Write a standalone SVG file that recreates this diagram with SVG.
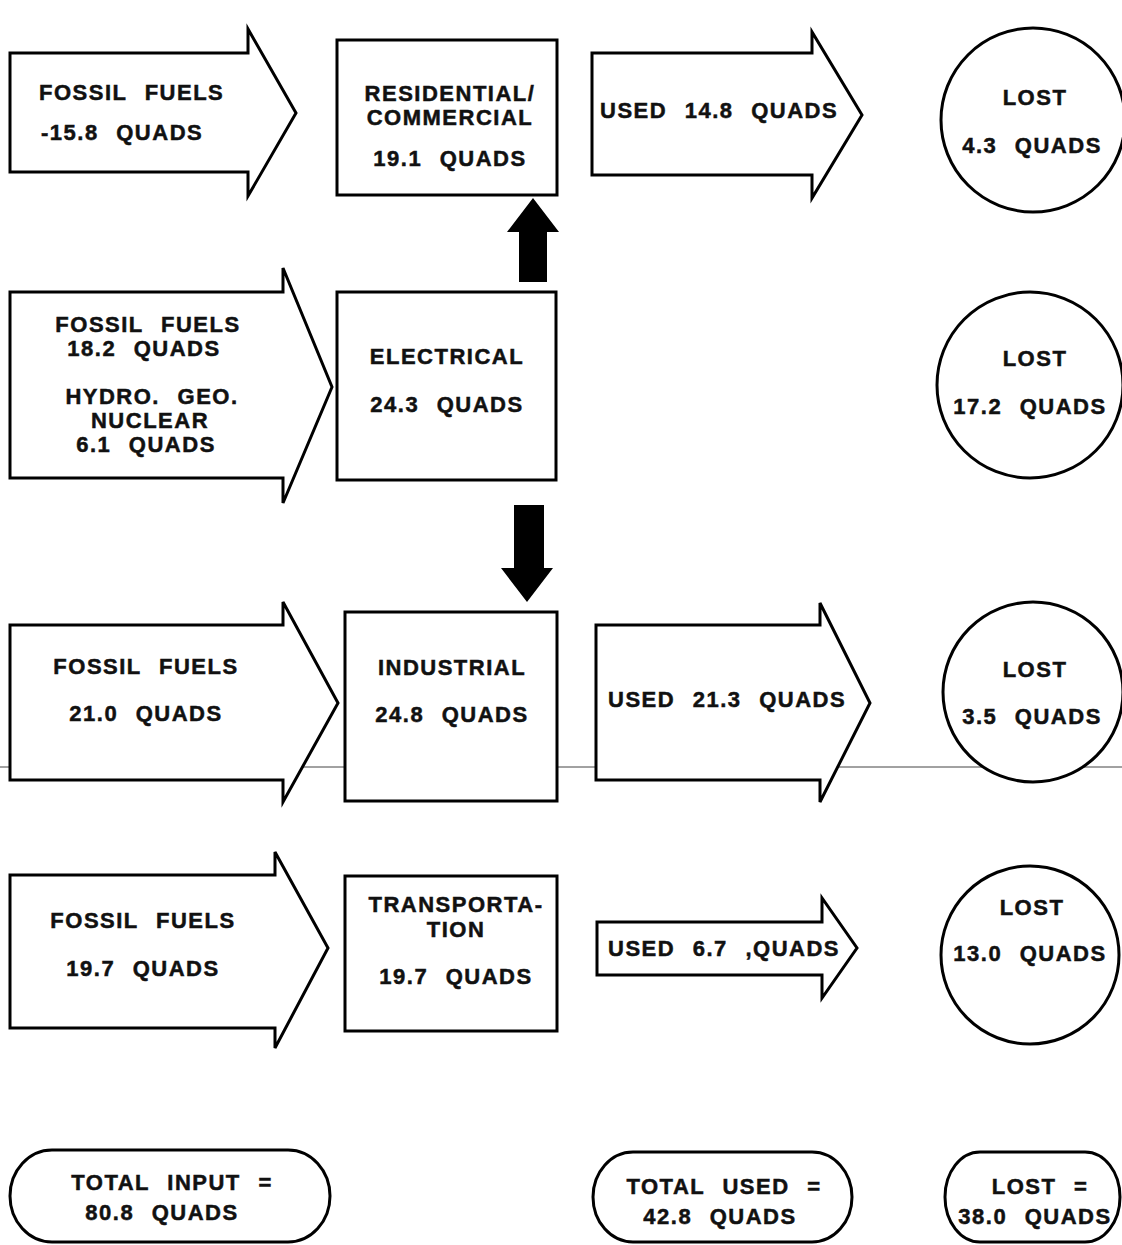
<svg xmlns="http://www.w3.org/2000/svg" width="1122" height="1245" viewBox="0 0 1122 1245">
<style>
.s{fill:#fff;stroke:#000;stroke-width:3;stroke-linejoin:miter}
.t{font-family:"Liberation Sans",Arial,sans-serif;font-weight:bold;font-size:22px;letter-spacing:1.5px;word-spacing:10px;fill:#111;stroke:#111;stroke-width:0.5;text-anchor:middle}
.l{text-anchor:start}
.blk{fill:#000;stroke:none}
</style>
<rect width="1122" height="1245" fill="#fff"/>
<line x1="0" y1="767" x2="1122" y2="767" stroke="#444" stroke-width="1"/>

<g id="connectors">
<polygon class="blk" points="533,198 559,232 547,232 547,282 519,282 519,232 507,232"/>
<polygon class="blk" points="514,505 544,505 544,568 553,568 527,602 501,568 514,568"/>
</g>

<!-- Row 1 -->
<g id="fossil1">
<polygon class="s" points="10,53 248,53 248,29 296,113 248,196 248,172 10,172"/>
<text class="t l" x="39" y="100">FOSSIL FUELS</text>
<text class="t l" x="41" y="140">-15.8 QUADS</text>
</g>
<g id="residential">
<rect class="s" x="337" y="40" width="220" height="155"/>
<text class="t" x="450" y="101">RESIDENTIAL/</text>
<text class="t" x="450" y="125">COMMERCIAL</text>
<text class="t" x="450" y="166">19.1 QUADS</text>
</g>
<g id="used1">
<polygon class="s" points="592,53 812,53 812,32 862,115 812,198 812,175 592,175"/>
<text class="t l" x="600" y="118">USED 14.8 QUADS</text>
</g>
<g id="lost1">
<circle class="s" cx="1033" cy="120" r="92"/>
<text class="t" x="1035" y="105">LOST</text>
<text class="t" x="1032" y="153">4.3 QUADS</text>
</g>

<!-- Row 2 -->
<g id="fossil2">
<polygon class="s" points="10,292 283,292 283,268 332,387 283,503 283,478 10,478"/>
<text class="t" x="148" y="332">FOSSIL FUELS</text>
<text class="t" x="144" y="356">18.2 QUADS</text>
<text class="t" x="152" y="404">HYDRO. GEO.</text>
<text class="t" x="150" y="428">NUCLEAR</text>
<text class="t" x="146" y="452">6.1 QUADS</text>
</g>
<g id="electrical">
<rect class="s" x="337" y="292" width="219" height="188"/>
<text class="t" x="447" y="364">ELECTRICAL</text>
<text class="t" x="447" y="412">24.3 QUADS</text>
</g>
<g id="lost2">
<circle class="s" cx="1030" cy="385" r="93"/>
<text class="t" x="1035" y="366">LOST</text>
<text class="t" x="1030" y="414">17.2 QUADS</text>
</g>

<!-- Row 3 -->
<g id="fossil3">
<polygon class="s" points="10,625 283,625 283,602 338,703 283,802 283,780 10,780"/>
<text class="t" x="146" y="674">FOSSIL FUELS</text>
<text class="t" x="146" y="721">21.0 QUADS</text>
</g>
<g id="industrial">
<rect class="s" x="345" y="612" width="212" height="189"/>
<text class="t" x="452" y="675">INDUSTRIAL</text>
<text class="t" x="452" y="722">24.8 QUADS</text>
</g>
<g id="used3">
<polygon class="s" points="596,625 820,625 820,603 870,703 820,802 820,780 596,780"/>
<text class="t l" x="608" y="707">USED 21.3 QUADS</text>
</g>
<g id="lost3">
<circle class="s" cx="1033" cy="692" r="90"/>
<text class="t" x="1035" y="677">LOST</text>
<text class="t" x="1032" y="724">3.5 QUADS</text>
</g>

<!-- Row 4 -->
<g id="fossil4">
<polygon class="s" points="10,875 275,875 275,852 328,948 275,1048 275,1028 10,1028"/>
<text class="t" x="143" y="928">FOSSIL FUELS</text>
<text class="t" x="143" y="976">19.7 QUADS</text>
</g>
<g id="transportation">
<rect class="s" x="345" y="876" width="212" height="155"/>
<text class="t" x="456" y="912">TRANSPORTA-</text>
<text class="t" x="456" y="937">TION</text>
<text class="t" x="456" y="984">19.7 QUADS</text>
</g>
<g id="used4">
<polygon class="s" points="597,922 822,922 822,898 857,948 822,998 822,975 597,975"/>
<text class="t l" x="608" y="956">USED 6.7 ,QUADS</text>
</g>
<g id="lost4">
<circle class="s" cx="1030" cy="955" r="89"/>
<text class="t" x="1032" y="915">LOST</text>
<text class="t" x="1030" y="961">13.0 QUADS</text>
</g>

<!-- Totals -->
<g id="totalInput">
<rect class="s" x="10" y="1150" width="320" height="92" rx="42" ry="46"/>
<text class="t" x="172" y="1190">TOTAL INPUT =</text>
<text class="t" x="162" y="1220">80.8 QUADS</text>
</g>
<g id="totalUsed">
<rect class="s" x="593" y="1152" width="259" height="90" rx="40" ry="45"/>
<text class="t" x="724" y="1194">TOTAL USED =</text>
<text class="t" x="720" y="1224">42.8 QUADS</text>
</g>
<g id="totalLost">
<rect class="s" x="945" y="1152" width="175" height="90" rx="35" ry="45"/>
<text class="t" x="1040" y="1194">LOST =</text>
<text class="t" x="1035" y="1224">38.0 QUADS</text>
</g>
</svg>
